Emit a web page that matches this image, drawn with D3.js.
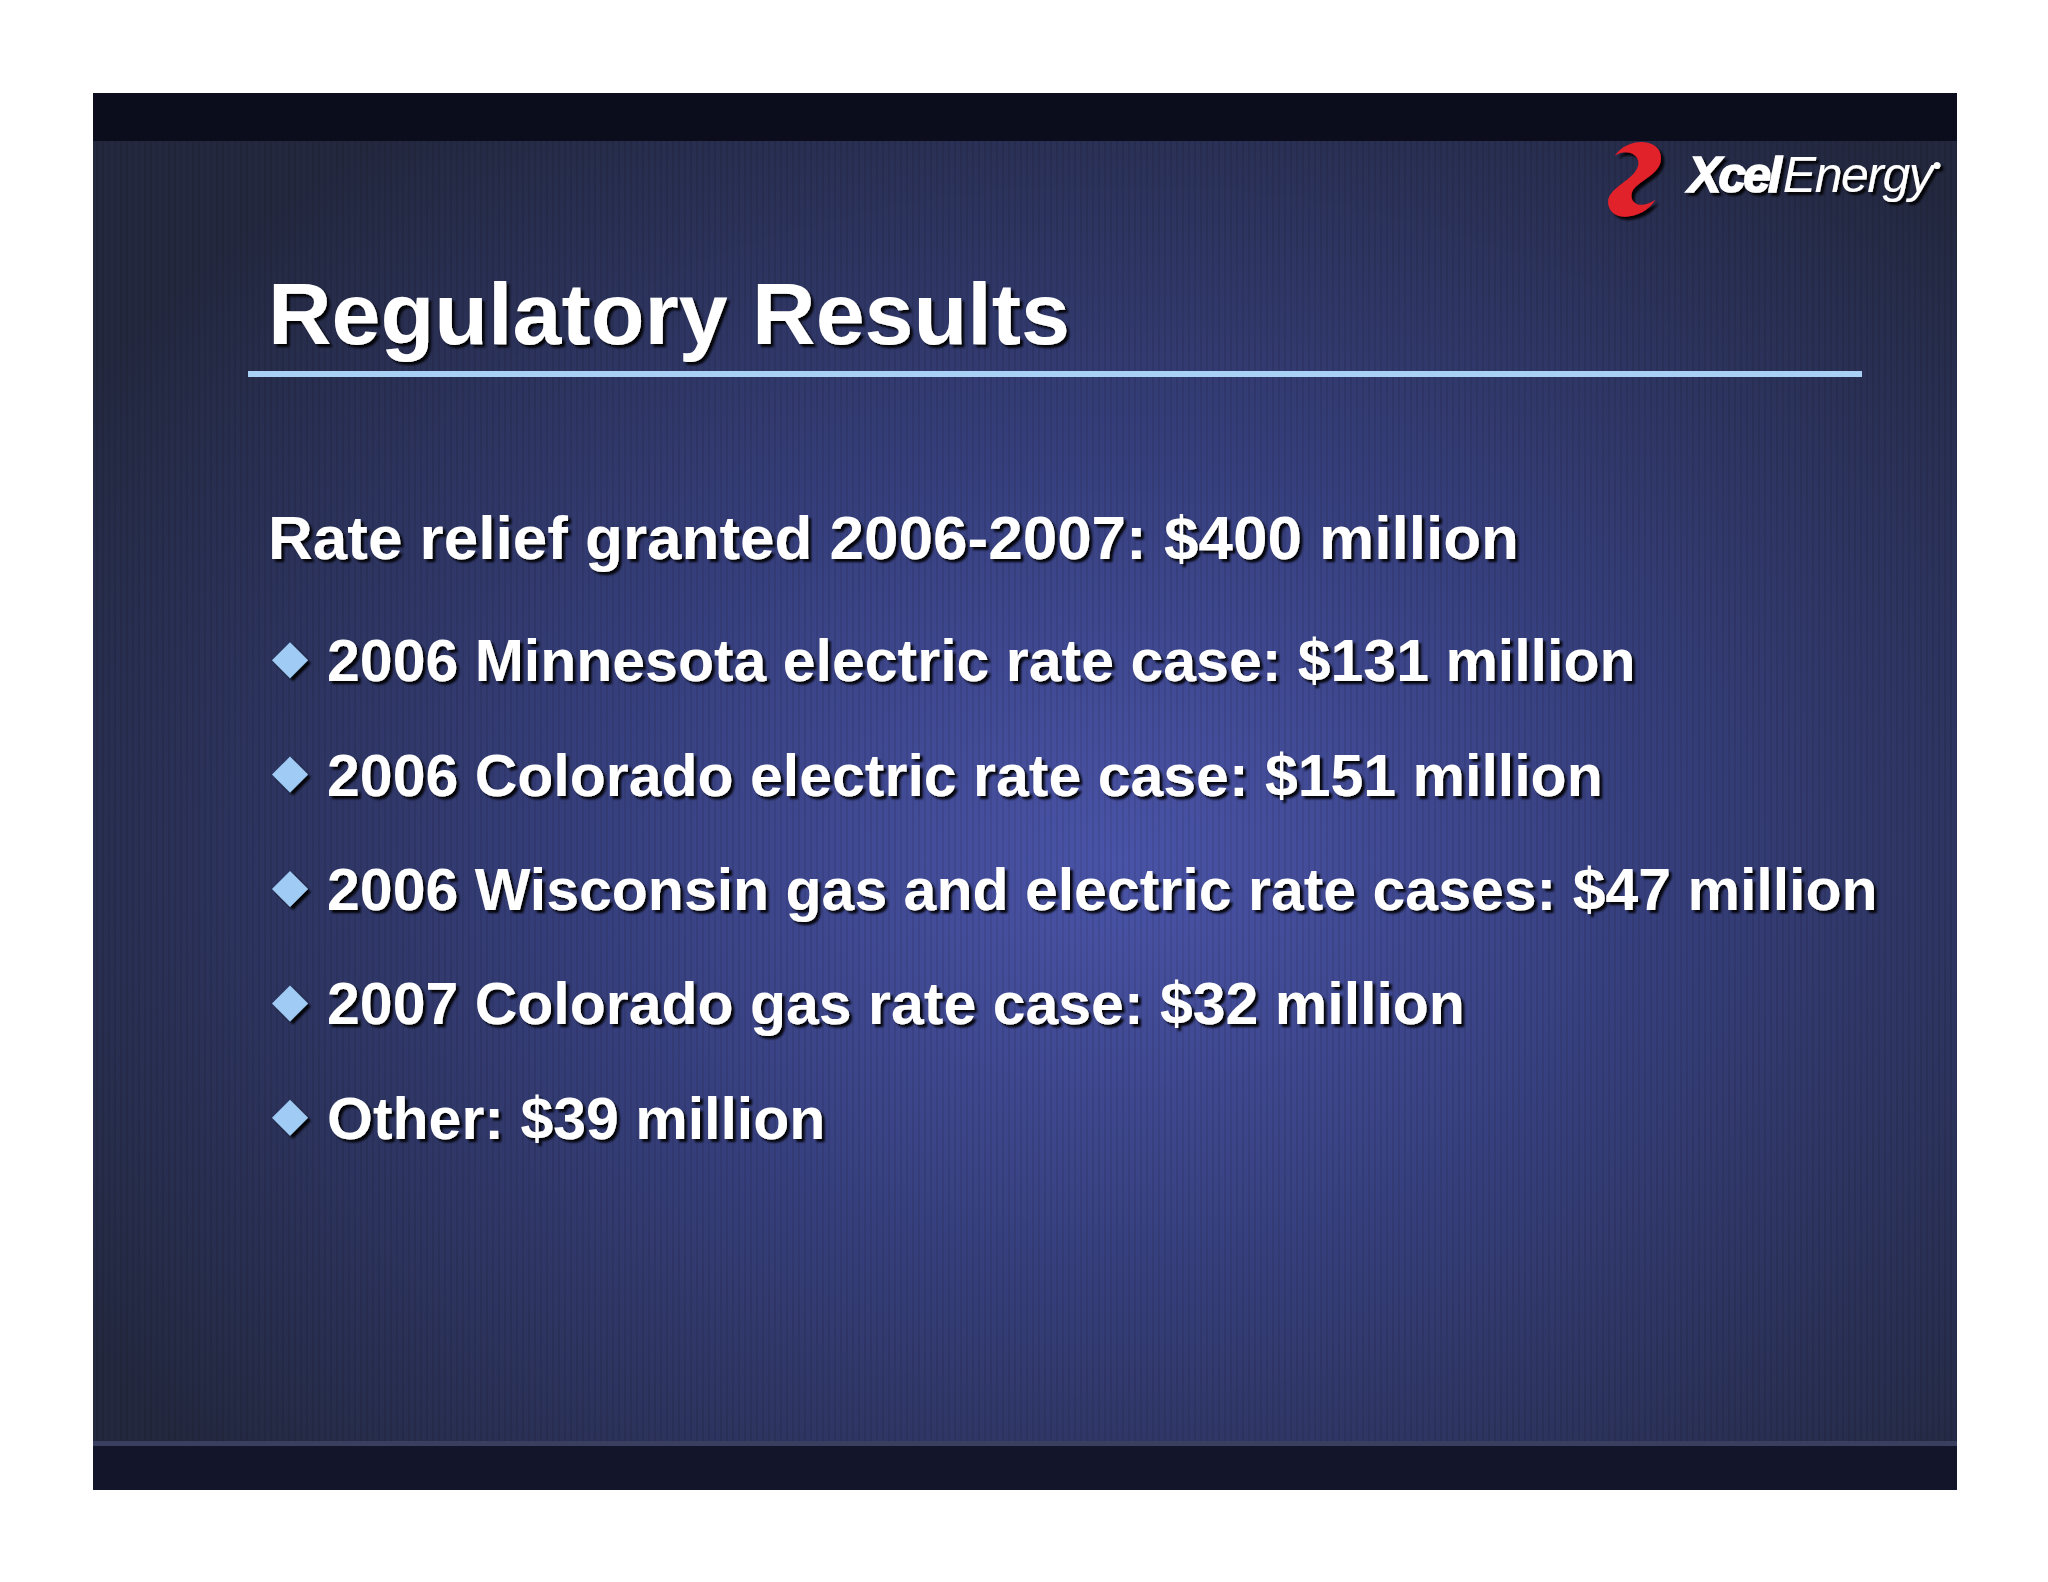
<!DOCTYPE html><html><head><meta charset="utf-8"><script src="https://cdn.jsdelivr.net/npm/d3@7"></script>
<style>body{margin:0;background:#fff}</style></head><body><svg id="c" width="2048" height="1582"></svg>
<script>
const title="Regulatory Results";
const heading="Rate relief granted 2006-2007: $400 million";
const items=["2006 Minnesota electric rate case: $131 million","2006 Colorado electric rate case: $151 million","2006 Wisconsin gas and electric rate cases: $47 million","2007 Colorado gas rate case: $32 million","Other: $39 million"];
const svg=d3.select("#c");
const X=93,Y=93,W=1864,H=1397;
const defs=svg.append("defs");
const rg=defs.append("radialGradient").attr("id","bg").attr("cx","0.55").attr("cy","0.55").attr("r","0.65");
rg.append("stop").attr("offset","0").attr("stop-color","#4a54a8");
rg.append("stop").attr("offset","0.45").attr("stop-color","#363f7c");
rg.append("stop").attr("offset","1").attr("stop-color","#23283f");
const pat=defs.append("pattern").attr("id","str").attr("width",6).attr("height",10).attr("patternUnits","userSpaceOnUse");
pat.append("rect").attr("width",2).attr("height",10).attr("fill","rgba(0,0,0,0.08)");
const f=defs.append("filter").attr("id","sh");
f.append("feDropShadow").attr("dx",3).attr("dy",3).attr("stdDeviation",0.8).attr("flood-color","#000").attr("flood-opacity",0.9);
svg.append("rect").attr("x",X).attr("y",Y).attr("width",W).attr("height",H).attr("fill","url(#bg)");
svg.append("rect").attr("x",X).attr("y",Y).attr("width",W).attr("height",H).attr("fill","url(#str)");
svg.append("rect").attr("x",X).attr("y",Y).attr("width",W).attr("height",48).attr("fill","#0b0c1c");
svg.append("rect").attr("x",X).attr("y",1446).attr("width",W).attr("height",44).attr("fill","#13152a");
svg.append("rect").attr("x",X).attr("y",1441).attr("width",W).attr("height",5).attr("fill","#3a3f60");
// logo
const lg=svg.append("g").attr("transform","translate(1617,180) scale(1.1)");
lg.append("path").attr("d","M-2,-22 C10,-40 40,-38 40,-20 C40,-5 20,0 14,10 C10,20 20,28 35,18 C25,35 -5,40 -8,22 C-10,8 12,2 18,-10 C24,-22 10,-30 -2,-22Z").attr("fill","#e2202a").attr("filter","url(#sh)");
svg.append("text").attr("x",1688).attr("y",192).attr("font-family","Liberation Sans,Arial").attr("font-style","italic").attr("font-size",50).attr("fill","#fff").attr("filter","url(#sh)")
 .html('<tspan font-weight="900" letter-spacing="-3" stroke="#fff" stroke-width="1.5">Xcel</tspan><tspan dx="4" letter-spacing="-1.5">Energy</tspan><tspan font-size="16" dy="-22">●</tspan>');
const ff="Liberation Sans,Arial,sans-serif";
svg.append("text").attr("x",268).attr("y",344).attr("font-family",ff).attr("font-weight","bold").attr("font-size",88).attr("fill","#fff").attr("filter","url(#sh)").text(title);
svg.append("rect").attr("x",248).attr("y",371).attr("width",1614).attr("height",6).attr("fill","#a9d0f5");
svg.append("text").attr("x",268).attr("y",559).attr("font-family",ff).attr("font-weight","bold").attr("font-size",62).attr("fill","#fff").attr("filter","url(#sh)").text(heading);
const y=d3.scaleBand().domain(items).range([603,1175]);
const g=svg.selectAll("g.it").data(items).join("g").attr("class","it").attr("transform",d=>`translate(0,${y(d)+y.bandwidth()/2})`);
g.append("path").attr("d","M290,-18 L308,0 L290,18 L272,0Z").attr("fill","#9fcbf5").attr("filter","url(#sh)");
g.append("text").attr("x",327).attr("y",21).attr("font-family",ff).attr("font-weight","bold").attr("font-size",59).attr("fill","#fff").attr("filter","url(#sh)").text(d=>d);
</script></body></html>
